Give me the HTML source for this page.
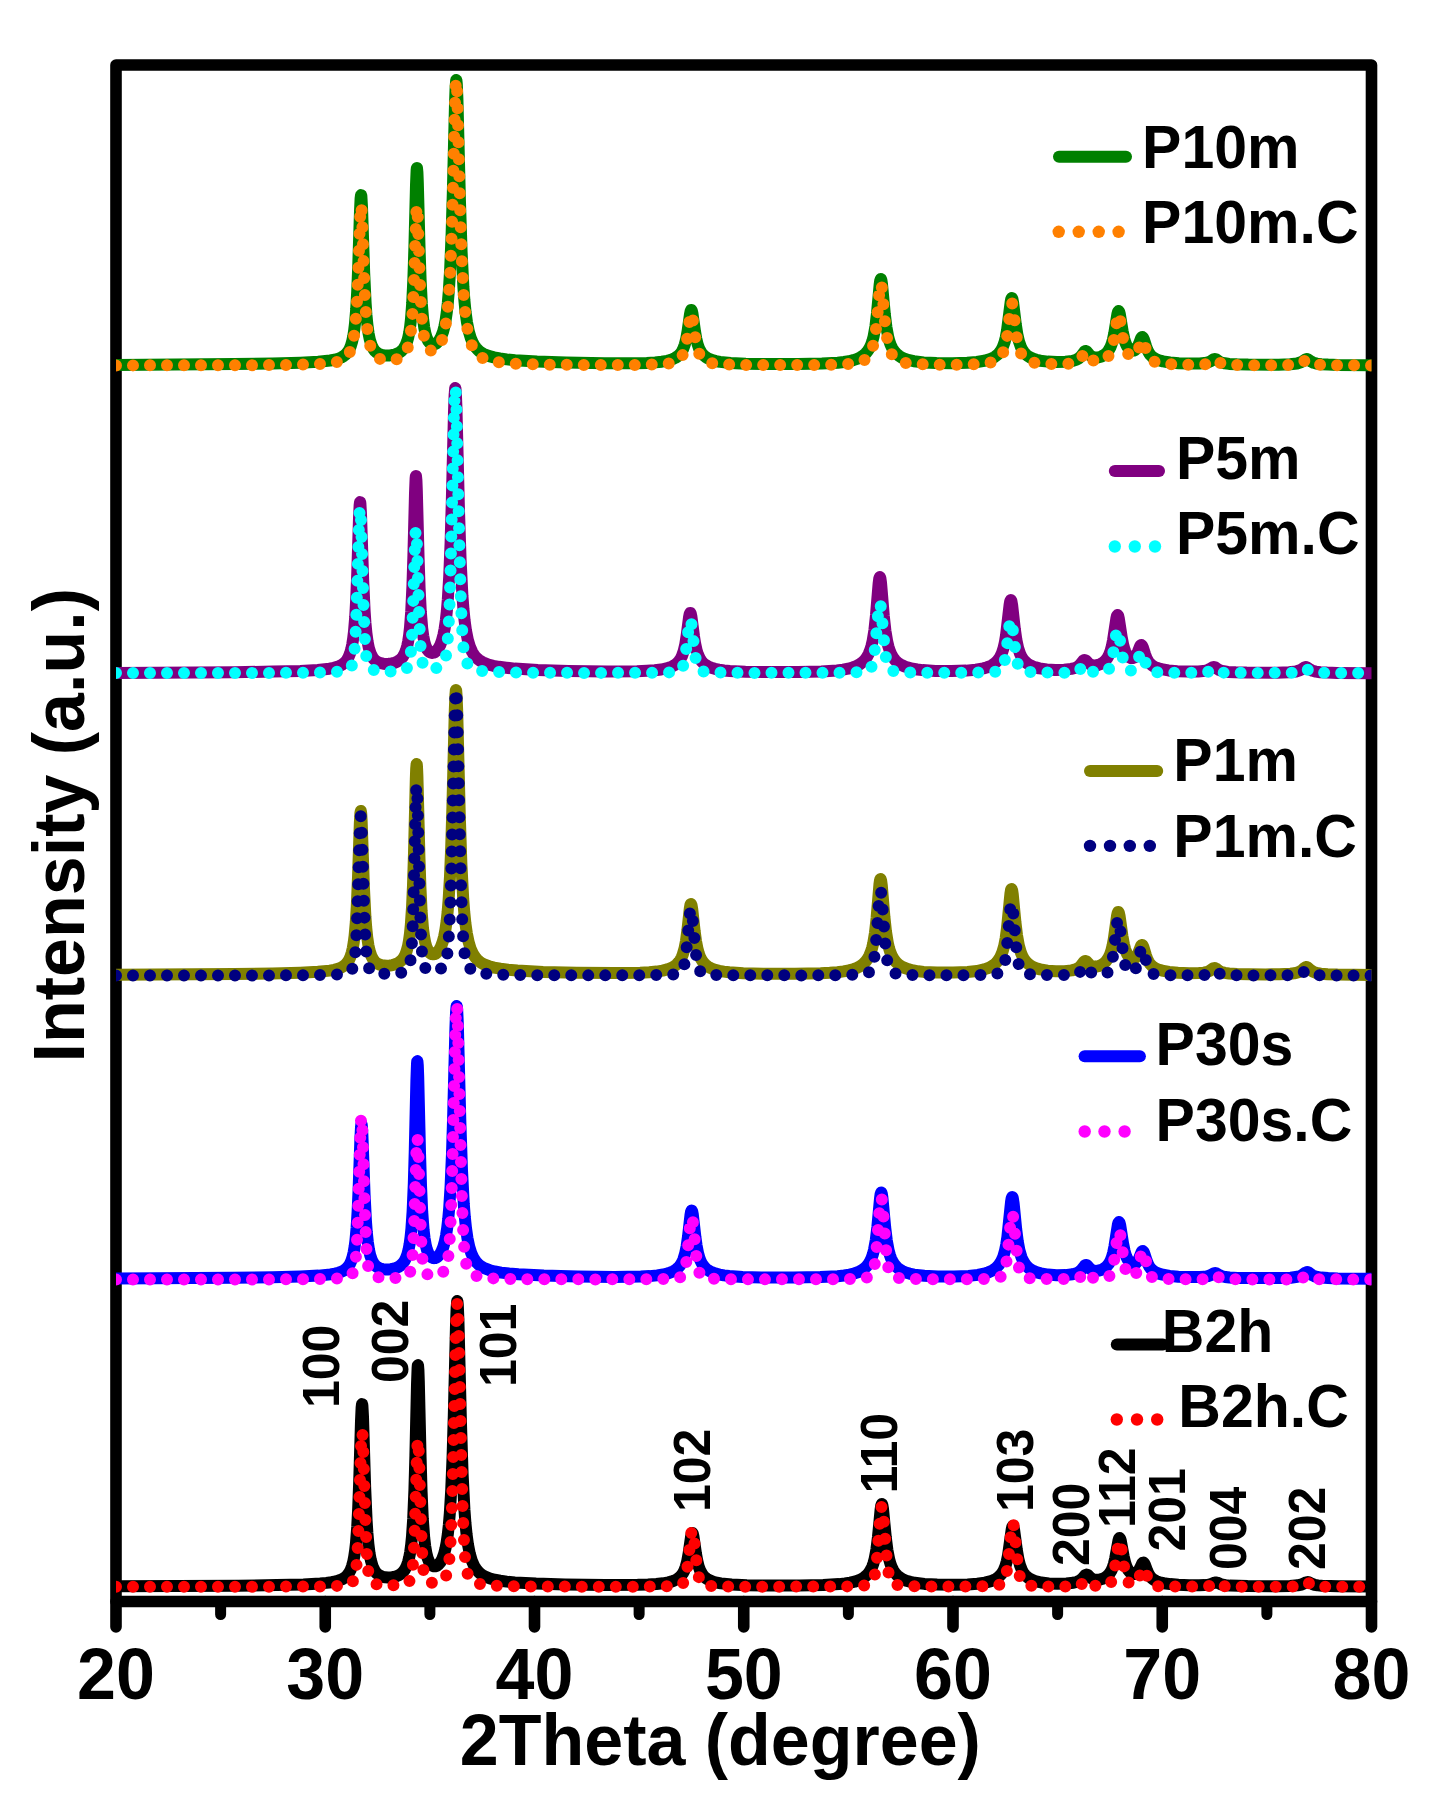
<!DOCTYPE html>
<html><head><meta charset="utf-8"><style>html,body{margin:0;padding:0;background:#fff;overflow:hidden;}svg{display:block;}text{font-family:"Liberation Sans",sans-serif;font-weight:bold;}</style></head><body>
<svg width="1437" height="1798" viewBox="0 0 1437 1798">
<defs><clipPath id="pc"><rect x="116.0" y="0" width="1255.5" height="1798"/></clipPath></defs>
<rect width="100%" height="100%" fill="#fff"/>
<path d="M116,65H1371.5V1601.5H116Z" fill="none" stroke="#000" stroke-width="11.6" stroke-linejoin="round"/>
<path d="M116.00,1601.5V1627M325.25,1601.5V1627M534.50,1601.5V1627M743.75,1601.5V1627M953.00,1601.5V1627M1162.25,1601.5V1627M1371.50,1601.5V1627" stroke="#000" stroke-width="11.6" stroke-linecap="round" fill="none"/>
<path d="M220.62,1601.5V1614.5M429.88,1601.5V1614.5M639.12,1601.5V1614.5M848.38,1601.5V1614.5M1057.62,1601.5V1614.5M1266.88,1601.5V1614.5" stroke="#000" stroke-width="11" stroke-linecap="round" fill="none"/>
<g clip-path="url(#pc)" fill="none" stroke-linejoin="round">
<path d="M116.0,364.9 233.8,364.1 272.4,363.5 300.4,362.7 318.2,361.8 330.2,360.5 334.6,359.7 338.2,358.7 341.2,357.5 343.8,356.0 346.0,354.1 348.0,351.7 349.6,348.9 351.0,345.4 352.2,341.3 353.2,336.6 354.2,330.3 355.0,323.5 356.2,309.1 357.2,291.5 358.2,266.9 360.0,211.1 360.6,198.4 361.0,195.1 361.2,195.2 361.4,196.5 362.0,207.0 364.2,273.2 365.6,302.9 366.4,314.5 367.4,324.9 368.6,333.6 369.8,339.5 371.6,345.3 373.6,349.2 374.8,350.8 376.2,352.1 377.8,353.3 379.4,354.1 381.6,354.9 384.2,355.4 387.0,355.5 389.8,355.4 392.8,355.0 395.4,354.4 397.8,353.4 399.8,352.3 402.0,350.5 404.0,348.1 405.6,345.3 407.0,341.8 408.2,337.6 409.2,332.8 410.2,326.2 411.0,319.0 412.2,303.3 413.4,278.4 414.4,247.3 416.0,185.2 416.6,170.6 416.8,168.5 417.0,168.0 417.4,172.1 417.8,181.9 419.6,250.2 420.6,279.8 421.8,303.4 423.2,319.9 424.2,327.3 425.4,333.4 426.6,337.5 428.2,341.0 430.0,343.2 431.0,343.9 432.2,344.3 433.4,344.4 434.6,344.2 435.8,343.7 437.0,342.9 439.2,340.4 441.2,336.7 443.0,331.9 444.4,326.5 445.6,320.3 446.8,312.1 447.8,303.1 448.8,291.3 450.2,268.3 451.6,234.2 452.8,193.5 455.0,103.8 455.6,87.2 456.2,80.1 456.4,80.2 456.8,84.1 457.4,98.4 460.0,202.6 461.6,251.9 463.4,287.2 464.4,300.4 465.6,312.3 467.0,322.3 468.8,331.4 470.8,338.1 473.2,343.6 474.6,346.0 476.0,347.8 477.8,349.8 479.6,351.4 481.6,352.8 483.8,354.0 489.2,356.1 494.0,357.4 499.8,358.5 506.8,359.4 515.0,360.2 537.0,361.6 566.0,362.6 604.6,363.3 636.4,363.2 646.8,362.9 655.2,362.4 661.8,361.7 667.2,360.8 670.2,360.0 672.8,359.0 675.2,357.9 677.2,356.6 679.0,355.1 680.4,353.6 681.8,351.6 683.0,349.3 684.8,344.5 686.2,339.0 687.6,331.1 690.0,314.1 690.6,311.2 691.2,310.0 691.4,310.0 691.8,310.7 692.4,313.2 695.0,331.4 696.2,338.3 697.6,344.1 699.0,348.2 701.2,352.4 702.6,354.2 704.0,355.6 705.6,356.9 707.6,358.2 712.2,360.1 715.8,361.1 720.0,361.9 730.6,363.0 745.8,363.7 767.6,364.1 798.2,364.1 822.0,363.6 837.8,362.7 843.8,362.0 849.0,361.2 853.4,360.1 857.2,358.9 860.4,357.4 863.2,355.6 865.6,353.5 867.8,350.9 869.6,348.0 871.2,344.5 872.4,341.0 873.6,336.5 875.4,326.5 877.0,313.1 879.6,285.0 880.2,280.7 880.8,279.0 881.0,279.1 881.4,280.2 882.0,284.0 884.8,314.0 886.4,327.1 888.2,336.8 889.4,341.3 890.6,344.7 892.2,348.1 894.0,351.0 896.2,353.5 898.8,355.7 901.8,357.6 905.2,359.0 909.2,360.2 913.8,361.2 923.6,362.4 936.4,363.1 952.4,363.2 967.2,362.8 976.8,362.0 984.4,360.8 990.4,359.0 992.8,357.9 995.0,356.7 998.2,354.1 1000.8,350.8 1002.8,347.1 1004.6,342.0 1005.8,337.2 1007.0,330.7 1010.6,302.4 1011.2,299.2 1011.8,298.0 1012.0,298.1 1012.4,298.9 1013.2,303.1 1015.8,324.5 1017.4,334.7 1019.0,341.6 1021.0,347.2 1022.4,350.0 1024.0,352.3 1025.8,354.3 1028.0,356.1 1030.4,357.5 1033.2,358.8 1036.4,359.8 1040.2,360.7 1047.8,361.6 1056.8,362.0 1065.6,361.8 1072.4,360.9 1076.2,359.8 1079.0,358.2 1081.2,356.1 1084.4,351.7 1085.0,351.2 1085.6,351.0 1086.2,351.1 1086.8,351.6 1089.2,354.4 1090.6,355.8 1092.2,356.8 1093.8,357.3 1096.2,357.5 1098.8,357.2 1101.6,356.4 1104.0,355.1 1106.4,353.2 1108.6,350.5 1110.4,347.3 1111.8,343.6 1113.0,339.3 1114.2,333.6 1117.4,314.0 1118.0,311.8 1118.6,311.0 1119.2,311.8 1119.8,314.1 1122.6,331.1 1124.2,338.6 1125.2,342.0 1126.2,344.6 1127.4,346.8 1128.6,348.5 1130.2,349.9 1132.0,350.7 1133.8,350.6 1135.4,349.8 1136.6,348.5 1137.6,346.9 1138.8,344.3 1141.0,338.5 1141.8,337.2 1142.4,337.0 1143.0,337.5 1143.8,339.2 1146.2,346.7 1147.6,350.3 1149.0,353.0 1150.4,355.0 1152.6,357.1 1155.4,358.9 1158.8,360.3 1163.0,361.4 1170.0,362.5 1178.8,363.2 1189.8,363.6 1199.6,363.5 1204.4,363.1 1207.8,362.4 1210.2,361.5 1213.6,359.3 1214.8,359.0 1216.0,359.3 1219.4,361.6 1221.6,362.6 1224.8,363.3 1229.2,363.9 1237.0,364.3 1248.2,364.6 1278.6,364.7 1290.2,364.3 1297.0,363.5 1300.8,362.3 1302.4,361.4 1305.4,359.4 1306.8,359.0 1308.0,359.4 1311.4,361.7 1313.6,362.8 1316.8,363.6 1321.2,364.2 1328.0,364.6 1337.8,364.9 1373.4,365.2" stroke="#008000" stroke-width="12"/>
<path d="M116.0,365.4 252.2,365.2 285.8,364.9 307.6,364.5 322.2,363.9 332.2,362.9 335.8,362.3 339.0,361.4 341.8,360.3 344.0,359.1 346.2,357.3 348.0,355.2 349.6,352.6 351.0,349.3 352.2,345.3 353.2,340.9 354.2,334.8 355.0,328.3 356.2,314.5 357.2,297.6 358.2,274.0 360.0,220.4 360.6,208.3 361.0,205.1 361.2,205.2 361.4,206.5 362.0,216.5 364.4,285.2 365.2,302.1 366.2,317.5 367.4,330.1 368.8,339.6 370.4,346.4 371.4,349.3 372.6,352.0 374.0,354.2 375.8,356.3 377.8,357.8 380.2,359.0 383.0,359.8 386.4,360.3 390.0,360.4 393.4,360.1 396.2,359.5 398.8,358.6 401.0,357.4 402.8,356.0 404.4,354.3 405.8,352.1 407.0,349.6 408.0,346.8 409.4,341.2 410.6,334.0 411.6,325.0 412.6,312.0 414.0,282.9 416.2,215.2 416.6,208.1 416.8,206.4 417.0,206.0 417.4,209.4 417.8,217.5 419.6,273.9 420.6,298.4 421.8,317.8 423.2,331.4 424.2,337.5 425.4,342.5 426.6,345.8 428.2,348.5 430.0,350.2 431.0,350.7 432.2,350.9 433.2,350.9 434.4,350.6 436.6,349.2 438.8,346.8 440.8,343.3 442.6,338.6 444.2,332.7 445.6,325.5 446.8,317.1 447.8,307.8 448.8,295.8 450.2,272.3 451.6,237.4 452.8,195.8 455.0,104.3 455.6,87.4 456.2,80.1 456.4,80.2 456.8,84.2 457.4,98.7 460.0,204.9 461.6,255.2 463.4,291.1 464.4,304.6 465.6,316.7 467.0,326.9 468.8,336.0 470.8,342.9 473.0,348.0 474.4,350.4 475.8,352.3 477.4,354.1 479.0,355.6 480.8,356.9 483.0,358.2 488.0,360.2 491.8,361.2 496.2,362.0 507.6,363.3 523.4,364.1 546.0,364.7 596.0,365.0 642.4,364.9 661.4,364.3 667.4,363.7 672.0,362.9 676.2,361.5 678.0,360.5 679.4,359.5 680.6,358.3 681.8,356.7 683.8,352.8 685.2,348.4 686.4,343.0 687.6,335.7 690.0,317.4 690.6,314.3 691.2,313.0 691.4,313.0 691.8,313.8 692.4,316.5 694.8,334.6 696.0,342.2 697.2,347.8 698.4,351.8 700.2,355.8 702.4,358.8 703.8,360.0 705.2,361.0 709.0,362.5 712.0,363.3 715.6,363.8 725.6,364.5 741.4,364.9 767.2,365.1 806.4,365.1 831.8,364.7 846.8,364.1 852.2,363.5 856.4,362.9 859.6,362.1 862.4,361.1 864.8,359.8 866.8,358.3 868.6,356.3 870.0,354.2 871.4,351.2 872.6,347.8 874.4,340.0 875.8,330.8 877.2,317.5 879.6,289.5 880.2,284.9 880.8,283.0 881.0,283.1 881.4,284.3 882.0,288.5 884.6,318.5 886.0,331.5 887.6,341.5 889.4,348.7 890.6,351.9 892.0,354.7 893.6,356.9 895.4,358.7 897.6,360.2 900.0,361.4 903.0,362.3 906.6,363.1 915.6,364.0 928.8,364.6 950.2,364.8 970.2,364.5 980.2,364.0 987.4,363.3 992.6,362.1 994.8,361.3 996.6,360.4 999.4,358.3 1001.6,355.5 1003.4,351.9 1005.0,347.0 1006.2,341.7 1007.4,334.4 1010.6,307.6 1011.2,304.3 1011.8,303.0 1012.0,303.1 1012.4,304.0 1013.2,308.4 1015.6,329.2 1017.0,339.0 1018.4,345.9 1020.2,351.7 1021.4,354.3 1022.6,356.3 1024.0,358.0 1025.6,359.4 1027.4,360.6 1029.6,361.6 1032.0,362.3 1035.0,363.0 1043.4,363.9 1055.2,364.2 1066.2,363.9 1070.2,363.6 1073.2,363.1 1076.6,362.0 1079.2,360.3 1081.2,358.0 1084.4,352.7 1085.0,352.2 1085.6,352.0 1086.2,352.2 1086.8,352.9 1089.2,356.7 1090.6,358.5 1092.2,359.9 1093.8,360.7 1096.4,361.3 1099.2,361.3 1102.2,360.6 1104.8,359.5 1107.0,357.8 1109.0,355.3 1110.6,352.3 1112.0,348.4 1113.2,343.7 1114.2,338.5 1117.4,317.2 1118.0,314.8 1118.6,314.0 1119.2,315.0 1119.8,317.5 1122.6,336.1 1124.2,344.2 1125.2,347.8 1126.2,350.5 1127.2,352.6 1128.4,354.3 1130.2,355.9 1132.0,356.5 1133.8,356.2 1135.4,355.0 1136.6,353.5 1137.6,351.6 1138.8,348.6 1141.2,341.4 1141.8,340.3 1142.4,340.0 1143.0,340.5 1143.8,342.2 1146.2,350.2 1147.4,353.5 1148.4,355.7 1149.6,357.6 1151.4,359.7 1153.4,361.1 1156.0,362.3 1159.4,363.2 1165.8,364.0 1175.2,364.6 1189.8,364.8 1200.8,364.6 1205.0,364.2 1208.0,363.5 1210.4,362.5 1213.6,360.3 1214.8,360.0 1216.0,360.3 1219.4,362.6 1221.6,363.6 1224.6,364.3 1228.6,364.7 1236.0,365.0 1248.4,365.2 1285.4,365.1 1293.4,364.8 1298.4,364.0 1301.2,363.0 1305.2,360.5 1306.6,360.0 1308.0,360.4 1311.2,362.5 1313.4,363.6 1316.2,364.3 1320.2,364.8 1334.6,365.3 1373.4,365.4" stroke="#FF8000" stroke-width="12" stroke-linecap="round" stroke-dasharray="0 17"/>
<path d="M116.0,672.9 234.6,672.2 273.0,671.6 300.4,670.9 317.8,670.0 329.4,668.7 333.8,667.9 337.4,666.9 340.4,665.6 342.8,664.2 345.0,662.4 347.0,659.9 348.6,657.1 350.0,653.6 351.2,649.4 352.2,644.7 353.2,638.3 354.0,631.5 355.2,617.0 356.2,599.2 357.2,574.4 359.0,518.2 359.6,505.5 360.0,502.1 360.2,502.2 360.4,503.6 361.0,514.1 363.2,580.8 364.6,610.8 365.4,622.5 366.4,633.0 367.6,641.7 368.8,647.7 370.6,653.5 372.6,657.5 373.8,659.1 375.2,660.5 376.8,661.6 378.4,662.5 380.6,663.2 383.2,663.7 386.0,663.9 388.8,663.8 391.8,663.4 394.4,662.8 396.8,661.9 398.8,660.7 401.0,659.0 403.0,656.6 404.6,653.8 406.0,650.3 407.2,646.0 408.2,641.2 409.2,634.6 410.0,627.4 411.2,611.6 412.4,586.6 413.4,555.5 415.0,493.3 415.6,478.6 415.8,476.5 416.0,476.0 416.4,480.1 416.8,490.0 418.6,558.4 419.6,588.1 420.8,611.7 422.2,628.3 423.2,635.8 424.4,641.9 425.6,645.9 427.2,649.4 429.0,651.6 430.0,652.3 431.2,652.8 432.4,652.9 433.6,652.7 434.8,652.2 436.0,651.3 438.2,648.8 440.2,645.2 442.0,640.3 443.4,634.9 444.6,628.8 445.8,620.5 446.8,611.5 447.8,599.7 449.2,576.6 450.6,542.5 451.8,501.6 454.0,411.9 454.6,395.2 455.2,388.1 455.4,388.2 455.8,392.1 456.4,406.4 459.0,510.8 460.6,560.2 462.4,595.5 463.4,608.7 464.6,620.6 466.0,630.7 467.8,639.7 469.8,646.5 472.2,652.0 473.6,654.3 475.0,656.2 476.8,658.2 478.6,659.7 480.6,661.1 482.8,662.3 488.2,664.5 493.2,665.8 499.0,666.8 506.2,667.7 514.8,668.6 537.8,669.9 568.6,670.9 607.0,671.4 637.0,671.2 646.8,670.8 654.8,670.3 661.2,669.5 666.4,668.4 669.4,667.5 672.0,666.5 674.2,665.3 676.2,663.9 678.0,662.3 679.4,660.6 680.8,658.4 682.0,656.0 683.8,650.7 685.2,644.6 686.6,636.0 689.0,617.4 689.6,614.3 690.2,613.0 690.4,613.0 690.8,613.8 691.4,616.5 694.0,636.4 695.2,643.9 696.6,650.2 698.0,654.7 700.2,659.3 701.6,661.3 703.0,662.9 704.6,664.3 706.6,665.6 708.8,666.8 711.2,667.7 714.8,668.8 719.0,669.6 724.0,670.4 729.8,670.9 745.4,671.7 767.8,672.0 798.0,672.0 821.4,671.4 837.0,670.4 843.0,669.6 848.2,668.7 852.6,667.5 856.4,666.1 859.6,664.4 862.4,662.3 864.8,660.0 866.8,657.3 868.6,654.0 870.2,650.1 871.4,646.2 872.6,641.1 874.4,630.1 876.0,615.1 878.6,583.7 879.2,578.9 879.8,577.0 880.0,577.1 880.4,578.3 881.0,582.6 883.8,616.1 885.4,630.7 887.2,641.5 888.4,646.5 889.6,650.3 891.2,654.2 893.0,657.4 895.2,660.2 897.8,662.7 900.8,664.7 904.2,666.3 908.2,667.7 912.8,668.8 917.4,669.5 922.6,670.1 935.4,670.9 951.4,671.1 966.2,670.6 975.8,669.7 983.4,668.4 986.6,667.5 989.4,666.5 991.8,665.3 994.0,663.9 997.2,661.1 999.8,657.6 1001.8,653.5 1003.6,647.9 1004.8,642.7 1006.0,635.6 1009.6,604.8 1010.2,601.4 1010.8,600.0 1011.0,600.1 1011.4,601.0 1012.2,605.6 1014.8,628.9 1016.4,640.0 1018.0,647.5 1020.0,653.7 1021.4,656.6 1023.0,659.2 1024.8,661.3 1027.0,663.3 1029.6,665.0 1032.4,666.3 1035.6,667.4 1039.4,668.4 1046.8,669.4 1055.4,669.9 1064.2,669.7 1071.2,668.9 1075.0,668.0 1078.0,666.5 1080.2,664.6 1083.4,660.6 1084.0,660.2 1084.6,660.0 1085.8,660.5 1088.2,663.0 1089.6,664.1 1091.2,664.9 1092.8,665.3 1095.2,665.4 1097.8,665.0 1100.4,664.1 1102.8,662.8 1105.2,660.7 1107.4,658.0 1109.2,654.6 1110.6,650.8 1111.8,646.4 1113.0,640.5 1116.4,618.2 1117.0,615.8 1117.6,615.0 1118.2,615.9 1118.8,618.4 1121.6,636.7 1123.2,644.8 1124.2,648.5 1125.2,651.3 1126.4,653.8 1127.6,655.6 1129.2,657.2 1131.0,658.1 1132.8,658.1 1134.4,657.4 1135.6,656.2 1136.6,654.7 1137.8,652.1 1140.2,646.1 1140.8,645.2 1141.4,645.0 1142.0,645.5 1142.8,647.2 1145.2,654.6 1146.6,658.3 1148.0,660.9 1149.4,662.9 1151.6,665.0 1154.2,666.7 1157.4,668.0 1161.4,669.2 1168.4,670.4 1177.2,671.2 1188.2,671.6 1198.2,671.5 1203.2,671.1 1206.6,670.5 1209.2,669.4 1212.6,667.3 1213.8,667.0 1215.0,667.3 1218.4,669.6 1220.6,670.5 1223.8,671.3 1228.0,671.9 1235.6,672.3 1246.6,672.6 1277.0,672.7 1289.0,672.3 1296.0,671.5 1299.8,670.3 1301.4,669.4 1304.4,667.4 1305.8,667.0 1307.0,667.4 1310.4,669.7 1312.6,670.8 1315.8,671.6 1320.2,672.2 1327.0,672.6 1337.0,672.9 1373.4,673.2" stroke="#800080" stroke-width="12"/>
<path d="M116.0,673.0 268.4,672.9 319.8,672.6 332.2,672.2 340.0,671.6 345.4,670.5 347.4,669.8 349.0,668.9 350.4,667.8 351.4,666.4 352.2,664.8 352.8,662.9 353.8,657.4 354.8,646.9 355.6,633.0 356.4,613.0 359.0,524.1 359.6,511.4 360.0,508.1 360.2,508.2 360.6,512.0 361.2,525.3 363.4,602.1 364.8,637.8 365.6,650.0 366.4,657.6 367.2,662.1 368.4,665.7 369.6,667.4 371.0,668.6 372.8,669.6 375.2,670.4 378.2,671.0 381.8,671.4 391.2,671.5 399.0,671.0 401.8,670.5 404.0,669.8 405.8,668.9 407.2,667.8 408.2,666.5 409.0,664.7 409.8,661.5 410.6,655.9 411.8,639.3 412.8,615.0 415.0,543.0 415.6,531.9 415.8,530.3 416.0,530.0 416.4,533.1 417.0,545.7 418.8,605.8 419.8,632.9 420.8,650.1 421.4,656.4 422.0,660.5 422.8,663.8 424.0,666.2 425.6,667.7 427.8,668.6 431.2,669.0 435.0,668.6 438.4,667.4 441.2,665.6 442.8,664.0 444.2,661.6 445.2,658.9 446.0,655.5 446.8,650.4 447.4,644.9 448.6,627.3 449.6,603.5 450.6,569.6 454.0,412.6 454.6,395.4 455.2,388.1 455.4,388.2 455.8,392.2 456.6,413.6 459.4,545.7 460.6,592.2 461.6,619.7 462.8,640.7 463.6,649.2 464.4,654.9 465.4,659.3 466.4,662.0 468.0,664.6 470.0,666.6 472.6,668.3 475.8,669.6 478.6,670.3 482.0,670.9 491.0,671.8 504.2,672.3 524.6,672.6 585.0,672.9 650.6,672.8 668.8,672.4 674.0,672.0 677.6,671.4 679.8,670.6 681.4,669.3 682.6,667.4 683.8,663.7 684.8,658.9 685.8,652.2 689.0,624.5 689.6,621.3 690.2,620.0 690.4,620.0 690.8,620.8 691.6,624.8 694.8,652.6 695.6,658.0 696.6,663.1 697.6,666.5 698.8,668.9 700.2,670.3 702.2,671.2 707.0,672.1 714.8,672.5 750.2,672.9 840.0,672.7 855.4,672.4 864.0,671.6 867.8,670.6 869.0,670.0 870.0,669.2 870.8,668.2 871.6,666.6 872.8,662.8 874.0,656.2 875.0,648.2 878.6,608.5 879.2,604.6 879.8,603.0 880.0,603.1 880.4,604.1 881.2,609.3 884.8,649.0 885.8,656.8 887.0,663.1 888.4,667.2 889.2,668.6 890.0,669.5 891.0,670.2 892.4,670.8 896.6,671.7 904.2,672.3 916.8,672.7 972.2,672.7 983.8,672.5 991.4,672.2 996.6,671.6 999.6,670.8 1001.2,669.7 1002.6,667.8 1003.6,665.3 1004.6,661.5 1006.4,650.4 1009.4,625.2 1010.2,621.1 1010.8,620.0 1011.0,620.1 1011.4,620.8 1012.2,624.6 1015.6,652.7 1016.6,659.0 1017.8,664.3 1019.0,667.6 1019.8,668.9 1020.6,669.8 1022.6,671.0 1026.0,671.7 1033.0,672.3 1044.2,672.6 1064.4,672.7 1074.2,672.3 1076.6,671.8 1078.4,670.9 1080.0,669.4 1083.0,665.8 1083.8,665.2 1084.6,665.0 1085.2,665.2 1086.0,665.8 1088.8,669.1 1090.2,670.4 1091.4,671.2 1092.8,671.7 1095.6,672.1 1100.2,671.9 1104.2,671.5 1106.6,670.8 1108.0,669.9 1109.2,668.5 1110.2,666.5 1111.2,663.4 1113.0,654.7 1116.2,633.6 1117.0,630.7 1117.6,630.0 1118.2,630.8 1119.0,634.0 1122.2,655.0 1124.0,663.5 1125.0,666.4 1126.2,668.6 1127.6,669.9 1129.4,670.5 1131.2,670.6 1132.6,670.2 1133.8,669.3 1134.8,668.1 1136.6,664.3 1140.0,653.8 1140.8,652.4 1141.4,652.0 1142.0,652.4 1142.8,653.8 1146.2,664.6 1147.2,667.1 1148.4,669.2 1149.6,670.5 1151.0,671.4 1152.6,671.9 1155.2,672.2 1161.8,672.6 1172.6,672.8 1193.2,672.8 1203.4,672.7 1205.8,672.4 1207.6,672.0 1209.2,671.2 1212.2,669.4 1213.8,669.0 1215.4,669.4 1218.4,671.2 1220.2,672.0 1222.2,672.5 1224.6,672.7 1248.0,672.9 1292.4,672.8 1296.2,672.6 1298.6,672.2 1300.6,671.4 1304.2,669.3 1305.6,669.0 1307.2,669.4 1310.6,671.3 1312.2,672.0 1314.0,672.5 1316.4,672.7 1328.8,672.9 1373.4,673.0" stroke="#00FFFF" stroke-width="12" stroke-linecap="round" stroke-dasharray="0 17"/>
<path d="M116.0,974.7 234.0,974.0 272.4,973.5 300.2,972.7 318.0,971.8 329.8,970.6 334.2,969.8 337.8,968.9 340.8,967.7 343.4,966.3 345.6,964.6 347.6,962.2 349.2,959.6 350.6,956.3 351.8,952.4 352.8,948.1 353.8,942.1 354.6,935.8 355.8,922.4 356.8,906.0 358.0,877.5 359.8,824.0 360.4,813.1 360.8,811.0 361.2,813.5 361.6,820.3 364.0,888.9 365.4,916.7 366.2,927.4 367.2,937.1 368.4,945.2 369.6,950.7 371.4,956.1 373.4,959.8 374.6,961.3 376.0,962.6 377.6,963.7 379.4,964.5 381.6,965.2 384.2,965.6 387.0,965.7 389.8,965.5 392.6,965.1 395.2,964.3 397.4,963.4 399.4,962.2 401.8,960.2 403.8,957.5 405.4,954.5 406.8,950.6 408.0,946.0 409.0,940.6 410.0,933.3 410.8,925.2 412.0,907.7 413.0,885.4 414.0,853.1 415.8,779.1 416.2,768.5 416.6,764.1 416.8,764.5 417.0,766.7 417.4,775.9 419.4,856.2 420.4,887.0 421.6,911.3 423.0,928.4 424.0,936.2 425.2,942.6 426.4,946.8 428.0,950.5 429.8,952.8 430.8,953.6 432.0,954.1 433.2,954.3 434.4,954.1 435.6,953.6 436.8,952.7 439.0,950.3 441.0,946.6 442.8,941.6 444.2,936.2 445.4,929.9 446.6,921.4 447.6,912.2 448.6,900.1 450.0,876.4 451.2,847.2 452.4,807.3 454.8,710.5 455.4,695.3 455.8,690.5 456.0,690.0 456.2,690.7 456.6,695.9 457.2,711.6 459.8,816.3 461.4,864.5 463.2,898.8 464.2,911.7 465.4,923.3 466.8,933.1 468.6,941.9 470.6,948.6 473.0,954.0 475.8,958.1 477.4,959.9 479.2,961.4 481.2,962.8 483.4,964.1 488.8,966.2 494.0,967.6 500.4,968.7 508.0,969.7 517.4,970.5 543.0,971.9 576.8,972.8 613.6,973.1 640.2,972.7 649.2,972.2 656.6,971.6 662.6,970.6 667.4,969.4 670.2,968.4 672.8,967.2 675.0,965.8 677.0,964.1 678.8,962.1 680.2,960.1 681.6,957.5 682.8,954.5 684.6,948.2 686.0,940.8 687.4,930.3 689.8,908.5 690.4,905.1 690.8,904.1 691.0,904.0 691.6,905.4 692.2,908.9 694.6,930.8 696.0,941.1 697.4,948.4 698.8,953.5 699.8,956.3 701.0,958.9 702.4,961.2 703.8,963.0 705.4,964.6 707.4,966.2 709.4,967.5 711.8,968.6 715.2,969.8 719.2,970.8 723.8,971.6 729.2,972.3 743.2,973.2 763.2,973.7 794.8,973.7 820.6,973.2 829.8,972.8 837.4,972.2 843.6,971.4 849.0,970.4 853.4,969.2 857.2,967.8 860.4,966.1 863.2,964.0 865.6,961.6 867.6,958.9 869.4,955.6 871.0,951.6 872.2,947.7 873.2,943.5 875.0,932.7 876.6,918.1 879.4,884.7 880.0,880.4 880.4,879.1 880.6,879.0 881.2,880.9 881.8,885.6 884.4,916.9 886.0,931.8 887.8,942.9 889.0,948.0 890.2,951.9 891.8,955.8 893.6,959.0 895.8,961.9 898.4,964.3 901.4,966.4 904.8,968.0 908.8,969.4 913.4,970.5 918.2,971.3 923.6,971.9 936.8,972.6 953.2,972.6 967.6,972.0 977.0,971.0 984.2,969.4 987.2,968.4 990.0,967.2 992.4,965.9 994.6,964.3 996.2,962.8 997.8,961.0 1000.4,956.9 1002.4,952.2 1004.2,945.8 1005.6,938.6 1007.0,928.4 1010.4,893.8 1011.0,890.1 1011.4,889.1 1011.6,889.0 1012.2,890.6 1012.8,894.7 1015.4,922.0 1017.0,935.3 1018.8,945.3 1020.8,952.4 1022.2,955.8 1023.8,958.8 1025.6,961.3 1027.8,963.5 1030.4,965.5 1033.2,967.1 1036.4,968.4 1040.2,969.4 1047.4,970.7 1055.8,971.3 1064.6,971.2 1071.8,970.4 1075.6,969.4 1078.6,967.9 1080.8,965.9 1084.0,961.7 1085.2,961.0 1085.8,961.1 1086.4,961.4 1089.0,964.2 1090.4,965.4 1092.0,966.2 1093.6,966.6 1096.0,966.6 1098.6,966.1 1101.2,965.1 1103.6,963.6 1106.0,961.4 1108.2,958.3 1110.0,954.6 1111.4,950.4 1112.6,945.5 1113.8,939.0 1117.0,916.0 1117.6,913.2 1118.2,912.0 1118.4,912.0 1118.8,912.7 1119.6,916.2 1122.4,936.2 1124.0,944.7 1125.0,948.6 1126.0,951.6 1127.2,954.2 1128.4,956.1 1130.0,957.8 1131.8,958.8 1133.6,958.8 1135.2,958.0 1136.4,956.7 1137.6,954.6 1141.0,945.9 1141.6,945.1 1142.2,945.0 1142.8,945.7 1143.4,947.0 1146.0,955.5 1147.2,958.8 1148.6,961.7 1150.0,963.9 1152.2,966.2 1154.8,968.0 1158.0,969.4 1162.0,970.6 1169.0,971.9 1177.8,972.8 1189.0,973.2 1199.0,973.1 1204.0,972.7 1207.4,971.9 1209.8,970.8 1213.4,968.3 1214.6,968.0 1215.8,968.4 1219.0,970.8 1221.4,972.0 1224.6,972.9 1229.0,973.5 1237.0,974.0 1249.0,974.3 1265.4,974.4 1279.4,974.3 1290.4,973.7 1294.2,973.3 1297.0,972.7 1299.0,972.0 1300.6,971.2 1302.2,970.0 1305.0,967.5 1305.8,967.1 1306.4,967.0 1307.6,967.4 1311.0,970.4 1313.4,971.9 1316.6,973.0 1320.8,973.7 1327.6,974.2 1337.4,974.6 1373.4,975.0" stroke="#808000" stroke-width="12"/>
<path d="M116.0,975.5 268.6,975.4 320.6,975.1 333.0,974.7 340.8,974.1 346.2,973.1 348.2,972.3 349.8,971.5 351.2,970.3 352.2,969.0 353.0,967.3 353.6,965.3 354.6,959.6 355.6,948.8 356.4,934.7 357.2,914.6 359.8,829.0 360.4,818.0 360.8,816.0 361.2,818.5 361.8,830.0 364.0,903.8 365.2,935.6 365.8,946.4 366.6,956.4 367.4,962.5 368.2,966.1 369.4,968.9 370.2,969.9 371.4,971.0 372.8,971.8 374.4,972.5 378.8,973.4 382.4,973.8 386.8,973.9 395.6,973.6 401.4,972.7 403.6,972.0 405.4,971.1 407.0,969.9 408.2,968.4 409.0,966.9 409.8,964.3 410.4,961.2 411.0,956.4 411.8,945.9 412.6,928.5 413.4,902.7 415.8,800.0 416.2,790.1 416.6,786.0 416.8,786.5 417.0,788.5 417.6,803.4 419.6,890.8 420.6,925.5 421.6,947.2 422.2,955.0 422.8,960.1 423.6,964.1 424.6,966.8 425.4,968.1 426.2,968.9 428.4,970.2 430.0,970.7 431.6,971.0 435.4,970.8 438.8,969.8 440.4,969.0 441.8,968.0 443.4,966.4 444.8,964.2 445.8,961.6 446.8,957.4 447.6,952.0 448.2,946.1 449.4,927.7 450.4,902.9 451.4,867.9 454.6,718.3 455.4,695.4 455.8,690.6 456.0,690.0 456.2,690.7 456.6,695.9 457.4,719.4 460.0,843.4 461.2,891.2 462.2,919.8 463.4,941.7 464.2,950.8 465.0,956.7 466.0,961.4 467.0,964.2 468.6,967.0 470.6,969.0 473.2,970.7 476.6,972.1 479.6,972.8 483.4,973.5 493.2,974.4 507.8,974.9 531.0,975.2 598.4,975.4 652.4,975.2 669.6,974.7 674.6,974.3 678.2,973.6 680.6,972.5 682.2,970.8 683.4,968.1 684.6,963.4 685.6,957.1 686.4,950.4 689.6,915.5 690.4,910.2 690.8,909.1 691.0,909.0 691.6,910.4 692.4,915.9 695.4,948.9 696.2,956.0 697.2,962.6 698.2,967.0 699.4,970.2 700.8,972.0 701.8,972.8 703.0,973.3 705.0,973.9 707.8,974.3 715.6,974.9 728.2,975.2 750.6,975.3 808.0,975.4 840.8,975.2 856.2,974.7 861.0,974.3 864.8,973.8 867.0,973.2 868.6,972.6 869.8,971.8 870.8,970.8 871.6,969.5 872.4,967.5 873.6,962.6 874.8,954.4 875.8,944.4 879.2,898.7 880.0,892.4 880.4,891.1 880.6,891.0 881.2,892.8 881.8,897.6 885.4,945.4 886.4,955.1 887.6,963.1 889.0,968.3 889.8,970.0 890.6,971.1 891.6,972.0 893.0,972.8 894.8,973.4 897.2,973.9 905.0,974.7 918.0,975.1 946.2,975.3 974.8,975.1 985.6,974.8 992.6,974.4 997.4,973.6 999.2,973.0 1000.4,972.4 1002.0,970.9 1003.2,968.6 1004.2,965.4 1005.2,960.4 1007.0,945.6 1010.2,909.2 1011.0,904.1 1011.4,903.1 1011.6,903.0 1012.2,904.6 1013.0,910.2 1016.4,948.7 1017.4,957.1 1018.6,964.1 1019.8,968.4 1020.6,970.1 1021.4,971.2 1022.4,972.2 1023.4,972.8 1026.8,973.8 1033.6,974.6 1044.4,975.0 1064.4,975.1 1074.8,974.7 1077.2,974.1 1079.0,973.0 1080.6,971.3 1083.8,966.8 1084.6,966.2 1085.2,966.0 1086.0,966.3 1086.8,967.0 1089.6,970.9 1090.8,972.3 1092.2,973.4 1093.6,973.9 1096.6,974.3 1101.4,974.1 1105.0,973.5 1107.4,972.6 1108.8,971.3 1110.0,969.4 1111.0,966.6 1112.0,962.5 1113.6,952.2 1116.8,924.4 1117.6,920.2 1118.2,919.0 1118.4,919.0 1118.8,919.8 1119.6,923.6 1123.0,952.6 1124.8,963.5 1125.8,967.2 1127.0,969.9 1128.4,971.5 1130.2,972.3 1132.0,972.3 1133.4,971.7 1134.6,970.6 1135.6,968.9 1137.4,963.8 1140.6,950.7 1141.4,948.6 1141.8,948.1 1142.2,948.0 1142.8,948.6 1143.6,950.7 1147.0,964.8 1148.0,968.0 1149.0,970.3 1150.2,972.1 1151.6,973.3 1153.4,974.0 1155.8,974.5 1162.2,974.9 1172.4,975.2 1193.0,975.3 1204.0,975.1 1206.4,974.9 1208.2,974.4 1209.8,973.6 1213.0,971.4 1214.6,971.0 1216.0,971.4 1219.2,973.6 1220.8,974.4 1222.8,974.9 1225.4,975.2 1249.0,975.4 1293.0,975.3 1296.8,975.1 1299.2,974.6 1301.2,973.8 1304.8,971.4 1306.4,971.0 1308.0,971.5 1311.2,973.5 1313.0,974.4 1314.8,974.9 1317.2,975.2 1329.6,975.4 1373.4,975.5" stroke="#000080" stroke-width="12" stroke-linecap="round" stroke-dasharray="0 17"/>
<path d="M116.0,1278.4 234.0,1277.7 272.6,1277.2 300.6,1276.4 318.6,1275.6 330.6,1274.4 335.0,1273.6 338.6,1272.7 341.6,1271.6 344.2,1270.3 346.4,1268.6 348.4,1266.4 350.0,1263.8 351.4,1260.6 352.6,1256.9 353.6,1252.6 354.6,1246.9 355.4,1240.7 356.6,1227.7 357.6,1211.6 358.6,1189.3 360.4,1138.6 361.0,1127.1 361.4,1124.1 361.6,1124.2 361.8,1125.4 362.4,1134.9 364.6,1195.0 366.0,1222.0 366.8,1232.5 367.8,1242.0 369.0,1249.8 370.2,1255.2 372.0,1260.4 374.0,1263.9 375.2,1265.4 376.6,1266.6 378.2,1267.6 380.0,1268.4 382.4,1269.1 385.0,1269.4 387.8,1269.5 390.8,1269.2 393.6,1268.7 396.0,1268.0 398.2,1267.0 400.2,1265.8 402.4,1263.8 404.4,1261.2 406.0,1258.1 407.4,1254.2 408.6,1249.5 409.6,1244.2 410.6,1236.8 411.4,1228.8 412.6,1211.4 413.8,1183.7 414.8,1149.2 416.4,1080.2 417.0,1063.8 417.2,1061.5 417.4,1061.1 417.8,1065.6 418.2,1076.5 420.0,1152.5 421.0,1185.5 422.2,1211.7 423.6,1230.1 424.6,1238.5 425.8,1245.3 427.0,1249.9 428.6,1253.8 429.6,1255.5 430.6,1256.6 431.6,1257.4 432.8,1258.0 434.0,1258.2 435.2,1258.0 436.4,1257.6 437.6,1256.8 439.8,1254.4 441.6,1251.3 443.4,1246.7 444.8,1241.6 446.0,1235.7 447.2,1227.9 448.2,1219.3 449.2,1208.1 450.6,1186.1 452.0,1153.5 453.2,1114.5 455.4,1028.8 456.0,1012.9 456.6,1006.1 456.8,1006.2 457.2,1010.0 457.8,1023.6 460.4,1123.3 462.0,1170.5 463.8,1204.2 464.8,1216.9 466.0,1228.2 467.4,1237.9 469.2,1246.5 471.2,1253.0 473.6,1258.2 476.4,1262.3 478.2,1264.1 480.0,1265.6 484.2,1268.1 489.6,1270.2 494.8,1271.5 501.2,1272.6 509.0,1273.5 518.4,1274.3 543.8,1275.6 577.4,1276.5 614.2,1276.9 640.8,1276.5 649.8,1276.1 657.2,1275.4 663.2,1274.5 668.0,1273.4 670.8,1272.4 673.4,1271.2 675.6,1269.9 677.6,1268.3 679.4,1266.4 680.8,1264.5 682.2,1262.1 683.4,1259.3 685.2,1253.3 686.6,1246.4 688.0,1236.6 690.4,1215.6 691.0,1212.0 691.6,1210.5 691.8,1210.6 692.2,1211.4 692.8,1214.5 695.4,1237.1 696.6,1245.6 698.0,1252.8 699.4,1257.8 700.4,1260.5 701.6,1263.0 703.0,1265.3 704.4,1267.1 706.0,1268.7 708.0,1270.2 710.0,1271.4 712.4,1272.5 715.8,1273.7 719.6,1274.6 724.0,1275.4 729.2,1276.0 742.6,1276.9 761.6,1277.4 793.4,1277.6 820.4,1277.1 837.6,1276.2 844.2,1275.5 849.6,1274.6 854.0,1273.5 857.8,1272.3 861.0,1270.7 863.8,1268.9 866.2,1266.8 868.2,1264.4 870.0,1261.5 871.6,1258.0 872.8,1254.5 874.0,1249.9 875.8,1240.0 877.4,1226.6 880.0,1198.5 880.6,1194.2 881.2,1192.5 881.4,1192.6 881.8,1193.7 882.4,1197.5 885.2,1227.5 886.8,1240.6 888.6,1250.3 889.8,1254.7 891.0,1258.2 892.6,1261.6 894.4,1264.4 896.6,1267.0 899.2,1269.2 902.2,1271.0 905.6,1272.5 909.4,1273.6 914.0,1274.6 924.2,1275.8 937.8,1276.5 954.2,1276.5 968.6,1275.9 978.0,1274.9 985.2,1273.3 988.2,1272.4 990.8,1271.3 993.2,1270.0 995.4,1268.5 997.0,1267.1 998.6,1265.3 1001.2,1261.4 1003.2,1256.8 1005.0,1250.6 1006.2,1244.7 1007.4,1236.8 1011.0,1202.3 1011.6,1198.5 1012.2,1197.0 1012.4,1197.1 1012.8,1198.1 1013.6,1203.2 1016.2,1229.3 1017.8,1241.7 1019.4,1250.1 1021.4,1257.0 1022.8,1260.3 1024.4,1263.1 1026.2,1265.6 1028.4,1267.8 1031.0,1269.7 1033.8,1271.1 1037.0,1272.4 1040.8,1273.4 1048.0,1274.6 1056.6,1275.2 1065.4,1275.1 1072.6,1274.3 1076.4,1273.3 1079.4,1271.7 1081.6,1269.7 1084.8,1265.6 1085.4,1265.2 1086.0,1265.0 1086.6,1265.1 1087.2,1265.5 1089.6,1268.2 1091.0,1269.4 1092.6,1270.3 1094.2,1270.8 1096.6,1270.9 1099.2,1270.5 1101.8,1269.7 1104.2,1268.4 1106.6,1266.5 1108.8,1263.8 1110.6,1260.5 1112.0,1256.8 1113.2,1252.5 1114.4,1246.8 1117.8,1225.1 1118.4,1222.8 1119.0,1222.0 1119.6,1222.9 1120.2,1225.3 1123.0,1243.1 1124.6,1251.0 1125.6,1254.6 1126.6,1257.3 1127.8,1259.7 1129.0,1261.5 1130.6,1263.0 1132.4,1263.9 1134.2,1263.9 1135.8,1263.2 1137.0,1262.0 1138.0,1260.5 1139.2,1258.0 1141.6,1252.1 1142.2,1251.2 1142.8,1251.0 1143.4,1251.5 1144.2,1253.1 1146.6,1260.5 1148.0,1264.0 1149.4,1266.7 1150.8,1268.6 1153.0,1270.7 1155.6,1272.3 1158.8,1273.6 1162.8,1274.7 1169.6,1275.9 1178.2,1276.7 1189.2,1277.1 1199.4,1277.1 1204.4,1276.8 1208.0,1276.2 1210.6,1275.2 1214.0,1273.3 1215.2,1273.0 1216.4,1273.3 1219.8,1275.3 1222.0,1276.2 1225.2,1277.0 1229.6,1277.5 1237.6,1277.9 1249.2,1278.1 1279.2,1278.1 1290.6,1277.7 1297.4,1276.8 1299.4,1276.3 1301.2,1275.6 1302.8,1274.6 1305.8,1272.4 1307.2,1272.0 1308.4,1272.4 1311.8,1274.9 1314.0,1276.1 1317.2,1277.0 1321.4,1277.6 1328.0,1278.1 1337.8,1278.4 1373.4,1278.7" stroke="#0000FF" stroke-width="12"/>
<path d="M116.0,1279.5 269.6,1279.4 321.2,1279.1 333.6,1278.7 341.4,1278.1 346.8,1277.1 348.8,1276.3 350.4,1275.5 351.8,1274.3 352.8,1273.0 353.6,1271.4 354.2,1269.5 355.2,1264.1 356.2,1253.8 357.0,1240.1 357.8,1220.4 360.4,1132.8 361.0,1120.3 361.4,1117.1 361.6,1117.2 362.0,1120.9 362.6,1134.0 364.8,1209.7 366.2,1244.8 367.0,1256.8 367.8,1264.3 368.6,1268.8 369.8,1272.3 371.0,1274.0 372.4,1275.2 374.2,1276.2 376.6,1277.0 379.6,1277.5 383.2,1277.9 392.8,1278.1 400.4,1277.5 403.2,1277.0 405.4,1276.3 407.2,1275.4 408.6,1274.3 409.6,1273.0 410.4,1271.3 411.2,1268.2 412.0,1262.6 413.2,1246.2 414.2,1222.1 416.4,1150.9 417.0,1139.9 417.2,1138.3 417.4,1138.0 417.8,1141.1 418.4,1153.6 420.2,1213.0 421.2,1239.8 422.2,1256.9 422.8,1263.1 423.4,1267.2 424.2,1270.4 425.2,1272.5 426.8,1274.1 429.0,1275.1 432.4,1275.6 436.2,1275.3 439.6,1274.2 442.4,1272.6 444.0,1271.0 445.4,1268.9 446.6,1265.9 447.4,1262.7 448.2,1257.7 448.8,1252.4 450.0,1235.5 451.0,1212.6 452.0,1179.9 455.4,1028.7 456.0,1012.1 456.6,1005.1 456.8,1005.2 457.2,1009.0 458.0,1029.7 460.8,1156.9 462.0,1201.7 463.0,1228.2 464.2,1248.4 465.0,1256.6 465.8,1262.0 466.8,1266.3 467.8,1268.9 469.4,1271.4 471.4,1273.4 474.0,1275.0 477.2,1276.2 480.2,1276.9 483.8,1277.5 493.6,1278.4 508.2,1278.9 531.0,1279.2 598.4,1279.4 653.2,1279.2 670.4,1278.8 675.4,1278.3 679.0,1277.6 681.2,1276.7 682.8,1275.2 684.0,1272.8 685.2,1268.6 686.2,1262.9 687.2,1255.0 690.4,1222.3 691.0,1218.6 691.6,1217.0 691.8,1217.1 692.2,1218.0 693.0,1222.7 696.2,1255.4 697.0,1261.9 698.0,1267.9 699.0,1271.8 700.2,1274.7 701.6,1276.3 703.6,1277.4 705.6,1277.9 708.4,1278.4 716.0,1278.9 728.6,1279.2 750.8,1279.4 841.4,1279.2 856.8,1278.8 861.6,1278.4 865.4,1277.9 869.2,1276.7 870.4,1276.0 871.4,1275.1 872.2,1273.9 873.0,1272.1 874.2,1267.6 875.4,1260.0 876.4,1250.6 880.0,1204.4 880.6,1199.8 881.2,1198.0 881.4,1198.1 881.8,1199.3 882.6,1205.3 886.2,1251.5 887.2,1260.7 888.4,1268.0 889.8,1272.8 890.6,1274.3 891.4,1275.4 892.4,1276.2 893.8,1276.9 898.0,1278.0 905.6,1278.7 918.4,1279.1 945.2,1279.3 974.4,1279.2 985.6,1278.9 993.0,1278.5 998.0,1277.8 1001.0,1276.7 1002.6,1275.4 1004.0,1273.0 1005.0,1270.0 1006.0,1265.3 1007.8,1251.5 1010.8,1220.4 1011.6,1215.4 1012.2,1214.0 1012.4,1214.1 1012.8,1215.0 1013.6,1219.7 1017.0,1254.4 1018.0,1262.2 1019.2,1268.8 1020.4,1272.8 1021.2,1274.4 1022.0,1275.5 1023.0,1276.4 1024.0,1277.0 1027.4,1277.9 1033.8,1278.7 1044.2,1279.0 1064.2,1279.1 1075.4,1278.8 1077.8,1278.4 1079.6,1277.6 1081.4,1276.1 1084.4,1272.7 1085.2,1272.2 1086.0,1272.0 1086.6,1272.2 1087.4,1272.7 1090.2,1275.7 1091.6,1277.0 1092.8,1277.7 1094.2,1278.2 1097.2,1278.5 1101.8,1278.3 1105.6,1277.8 1108.0,1277.0 1109.4,1276.0 1110.6,1274.4 1111.6,1272.1 1112.6,1268.7 1114.4,1258.8 1117.6,1235.1 1118.4,1231.7 1119.0,1231.0 1119.6,1231.9 1120.4,1235.5 1123.6,1259.1 1125.4,1268.7 1126.4,1272.0 1127.6,1274.4 1129.0,1275.9 1130.6,1276.5 1132.4,1276.6 1133.8,1276.0 1135.0,1275.0 1136.2,1273.0 1138.0,1267.8 1141.4,1253.5 1142.2,1251.5 1142.8,1251.0 1143.4,1251.5 1144.2,1253.5 1147.6,1268.1 1148.6,1271.5 1149.8,1274.4 1151.0,1276.2 1152.4,1277.4 1154.0,1278.0 1156.6,1278.5 1162.6,1278.9 1172.4,1279.2 1204.6,1279.2 1207.0,1279.0 1208.8,1278.6 1210.6,1277.9 1213.6,1276.4 1215.2,1276.0 1216.8,1276.4 1219.8,1277.9 1221.6,1278.6 1223.6,1279.1 1226.0,1279.3 1248.6,1279.4 1293.4,1279.4 1297.4,1279.2 1300.0,1278.8 1302.0,1278.1 1305.6,1276.3 1307.0,1276.0 1308.6,1276.3 1313.6,1278.6 1315.4,1279.0 1317.8,1279.3 1373.4,1279.5" stroke="#FF00FF" stroke-width="12" stroke-linecap="round" stroke-dasharray="0 17"/>
<path d="M116.0,1586.3 238.4,1585.7 276.6,1585.1 303.4,1584.4 320.2,1583.5 326.4,1582.9 331.6,1582.2 335.8,1581.4 339.4,1580.3 342.4,1579.1 344.8,1577.6 347.0,1575.6 349.0,1573.0 350.6,1570.0 352.0,1566.2 353.2,1561.8 354.2,1556.7 355.2,1549.9 356.0,1542.6 357.2,1527.1 358.2,1508.1 359.2,1481.5 361.0,1421.3 361.6,1407.7 362.0,1404.1 362.2,1404.2 362.4,1405.7 363.0,1416.9 365.2,1488.4 366.6,1520.6 367.4,1533.0 368.4,1544.3 369.6,1553.7 370.8,1560.0 372.6,1566.3 374.6,1570.5 375.8,1572.3 377.2,1573.8 378.8,1575.0 380.4,1575.9 382.6,1576.8 385.2,1577.3 388.0,1577.5 391.0,1577.4 393.8,1577.0 396.4,1576.3 398.8,1575.3 400.8,1574.0 403.0,1572.1 405.0,1569.4 406.6,1566.2 408.0,1562.3 409.2,1557.5 410.2,1552.1 411.2,1544.6 412.0,1536.4 413.2,1518.6 414.4,1490.3 415.4,1455.1 417.0,1384.6 417.6,1367.9 417.8,1365.5 418.0,1365.1 418.4,1369.7 418.8,1380.9 420.6,1458.5 421.6,1492.2 422.8,1519.0 424.2,1537.8 425.2,1546.3 426.4,1553.3 427.6,1558.0 429.2,1562.0 430.2,1563.6 431.2,1564.8 432.2,1565.6 433.4,1566.2 434.6,1566.3 435.8,1566.2 437.0,1565.7 438.2,1564.8 440.4,1562.3 442.2,1559.0 444.0,1554.2 445.4,1548.8 446.6,1542.6 447.8,1534.4 448.8,1525.3 449.8,1513.5 451.2,1490.4 452.6,1456.1 453.8,1415.1 456.0,1325.0 456.6,1308.2 457.2,1301.1 457.4,1301.2 457.8,1305.2 458.4,1319.5 461.0,1424.3 462.6,1473.9 464.4,1509.4 465.4,1522.7 466.6,1534.6 468.0,1544.7 469.8,1553.8 471.8,1560.6 474.2,1566.1 475.6,1568.4 477.0,1570.3 478.6,1572.1 480.4,1573.7 482.4,1575.1 484.6,1576.4 490.0,1578.5 494.6,1579.7 500.2,1580.7 506.8,1581.6 514.8,1582.4 536.0,1583.6 565.0,1584.5 605.2,1585.0 637.6,1584.8 648.0,1584.5 656.4,1584.0 663.0,1583.3 668.4,1582.4 671.4,1581.6 674.0,1580.6 676.2,1579.6 678.2,1578.4 680.0,1576.9 681.4,1575.4 682.8,1573.4 684.0,1571.3 685.8,1566.6 687.2,1561.2 688.6,1553.5 691.0,1537.0 691.6,1534.2 692.2,1533.0 692.4,1533.0 692.8,1533.7 693.4,1536.2 696.0,1553.8 697.2,1560.5 698.6,1566.2 700.0,1570.1 702.2,1574.2 703.6,1576.0 705.0,1577.4 706.6,1578.6 708.6,1579.8 713.2,1581.7 716.8,1582.7 721.0,1583.4 731.6,1584.5 746.8,1585.2 768.6,1585.5 799.4,1585.5 823.2,1585.0 839.0,1584.1 845.0,1583.5 850.2,1582.7 854.6,1581.7 858.4,1580.4 861.6,1579.0 864.4,1577.2 866.8,1575.2 868.8,1572.9 870.6,1570.1 872.2,1566.8 873.4,1563.4 874.6,1559.0 876.4,1549.5 878.0,1536.7 880.6,1509.7 881.2,1505.7 881.8,1504.0 882.0,1504.1 882.4,1505.2 883.0,1508.8 885.8,1537.6 887.4,1550.1 889.2,1559.4 890.4,1563.7 891.6,1566.9 893.2,1570.2 895.0,1573.0 897.2,1575.4 899.8,1577.5 902.8,1579.3 906.2,1580.7 910.2,1581.8 914.8,1582.8 924.4,1583.9 937.0,1584.6 952.8,1584.8 967.6,1584.4 977.4,1583.7 985.0,1582.6 991.0,1581.1 993.6,1580.1 995.8,1579.0 999.0,1576.7 1001.6,1573.9 1003.8,1570.2 1005.6,1565.6 1006.8,1561.3 1008.0,1555.5 1011.6,1530.0 1012.2,1527.1 1012.8,1526.0 1013.0,1526.1 1013.4,1526.8 1014.2,1530.6 1016.8,1549.9 1018.4,1559.1 1020.0,1565.3 1022.0,1570.4 1023.4,1572.8 1025.0,1574.9 1026.8,1576.7 1029.0,1578.3 1031.4,1579.6 1034.2,1580.8 1037.4,1581.7 1041.2,1582.5 1048.8,1583.4 1057.6,1583.7 1066.4,1583.5 1073.4,1582.8 1077.2,1581.8 1080.0,1580.5 1082.2,1578.7 1085.4,1575.1 1086.6,1574.5 1087.8,1575.0 1090.2,1577.4 1091.6,1578.5 1093.2,1579.3 1094.8,1579.7 1097.2,1579.8 1100.0,1579.5 1102.6,1578.7 1105.0,1577.6 1107.4,1575.9 1109.6,1573.5 1111.4,1570.6 1112.8,1567.3 1114.0,1563.4 1115.2,1558.3 1118.4,1540.7 1119.0,1538.7 1119.6,1538.0 1120.2,1538.8 1120.8,1540.8 1123.6,1556.1 1125.2,1562.8 1126.2,1565.9 1127.2,1568.2 1128.4,1570.3 1129.6,1571.8 1131.2,1573.1 1133.0,1573.8 1134.8,1573.9 1136.4,1573.2 1137.6,1572.2 1138.6,1570.9 1139.8,1568.7 1142.2,1563.5 1142.8,1562.8 1143.4,1562.6 1144.0,1563.0 1144.8,1564.4 1147.2,1570.8 1148.6,1573.9 1150.0,1576.2 1151.4,1577.8 1153.6,1579.6 1156.2,1581.0 1159.6,1582.3 1163.6,1583.2 1170.2,1584.1 1178.4,1584.8 1189.0,1585.2 1199.2,1585.3 1204.6,1585.1 1208.4,1584.7 1211.0,1584.0 1214.6,1582.6 1215.8,1582.4 1217.0,1582.6 1220.4,1584.1 1222.6,1584.7 1225.6,1585.2 1229.8,1585.6 1247.6,1586.1 1276.8,1586.2 1290.0,1585.9 1297.6,1585.3 1301.6,1584.5 1306.4,1582.3 1307.8,1582.0 1309.0,1582.3 1312.4,1584.0 1314.6,1584.8 1317.8,1585.4 1322.0,1585.8 1338.4,1586.3 1373.4,1586.6" stroke="#000000" stroke-width="12"/>
<path d="M116.0,1586.8 269.6,1586.7 321.6,1586.4 334.0,1586.1 342.0,1585.5 347.4,1584.5 349.4,1583.8 351.0,1583.0 352.4,1581.9 353.4,1580.6 354.2,1579.1 354.8,1577.3 355.8,1572.1 356.8,1562.3 357.6,1549.3 358.4,1530.5 361.0,1447.1 361.6,1435.2 362.0,1432.1 362.2,1432.2 362.6,1435.7 363.2,1448.2 365.4,1520.3 366.8,1553.7 367.6,1565.2 368.4,1572.3 369.2,1576.6 370.4,1579.9 371.6,1581.6 373.0,1582.7 375.0,1583.7 377.4,1584.4 380.6,1584.9 384.4,1585.3 394.4,1585.3 401.4,1584.7 404.0,1584.2 406.2,1583.4 407.8,1582.6 409.2,1581.5 410.2,1580.1 411.0,1578.3 411.8,1575.1 412.6,1569.3 413.8,1552.2 414.8,1527.3 417.0,1453.4 417.6,1441.9 417.8,1440.4 418.0,1440.0 418.4,1443.2 419.0,1456.1 420.8,1517.8 421.8,1545.6 422.8,1563.3 423.4,1569.8 424.0,1574.0 424.8,1577.4 425.8,1579.6 427.4,1581.3 429.6,1582.3 433.0,1582.8 436.8,1582.4 440.2,1581.3 443.0,1579.6 444.6,1578.0 446.0,1575.9 447.2,1572.8 448.0,1569.4 448.8,1564.3 449.4,1558.8 450.6,1541.3 451.6,1517.6 452.6,1483.8 456.0,1327.5 456.6,1310.3 457.2,1303.1 457.4,1303.2 457.8,1307.1 458.6,1328.5 461.4,1460.0 462.6,1506.4 463.6,1533.7 464.8,1554.6 465.6,1563.1 466.4,1568.7 467.4,1573.1 468.4,1575.9 470.0,1578.5 472.0,1580.5 474.6,1582.1 477.8,1583.4 480.8,1584.2 484.2,1584.8 493.4,1585.6 507.0,1586.1 528.2,1586.5 591.4,1586.7 653.2,1586.6 671.0,1586.1 676.0,1585.7 679.6,1585.1 681.8,1584.3 683.4,1582.9 684.6,1580.8 685.8,1576.9 686.8,1571.7 687.8,1564.5 691.0,1534.8 691.6,1531.4 692.2,1530.0 692.4,1530.1 692.8,1530.9 693.6,1535.2 696.8,1564.9 697.6,1570.8 698.6,1576.2 699.6,1579.8 700.8,1582.4 702.2,1583.9 704.2,1584.9 709.2,1585.8 717.6,1586.3 731.6,1586.6 757.6,1586.7 842.8,1586.5 857.6,1586.1 862.4,1585.7 866.0,1585.2 869.8,1584.1 871.0,1583.3 872.0,1582.4 872.8,1581.2 873.6,1579.4 874.8,1575.0 876.0,1567.4 877.0,1558.1 880.6,1512.4 881.2,1507.8 881.8,1506.0 882.0,1506.1 882.4,1507.3 883.2,1513.3 886.8,1559.1 887.8,1568.1 889.0,1575.4 890.4,1580.2 891.2,1581.7 892.0,1582.7 893.0,1583.5 894.4,1584.3 898.6,1585.3 906.2,1586.0 919.0,1586.4 945.6,1586.6 974.8,1586.5 986.0,1586.3 993.4,1585.8 998.6,1585.1 1001.6,1584.1 1003.2,1582.8 1004.6,1580.5 1005.6,1577.5 1006.6,1572.9 1008.4,1559.6 1011.4,1529.3 1012.2,1524.3 1012.8,1523.0 1013.0,1523.1 1013.4,1524.0 1014.2,1528.6 1017.6,1562.3 1018.6,1570.0 1019.8,1576.4 1021.0,1580.3 1021.8,1581.9 1022.6,1583.0 1023.6,1583.8 1024.6,1584.4 1028.0,1585.3 1034.4,1586.0 1044.6,1586.4 1064.6,1586.5 1076.0,1586.2 1078.4,1585.8 1080.2,1585.1 1082.0,1583.7 1085.0,1580.7 1085.8,1580.2 1086.6,1580.0 1088.0,1580.6 1090.8,1583.4 1092.2,1584.5 1093.4,1585.2 1094.8,1585.6 1097.8,1585.9 1102.6,1585.7 1106.2,1585.2 1108.6,1584.5 1110.0,1583.5 1111.2,1582.0 1112.2,1579.9 1113.2,1576.6 1115.0,1567.3 1118.2,1544.9 1119.0,1541.7 1119.6,1541.0 1120.2,1541.9 1121.0,1545.2 1124.4,1568.9 1126.2,1577.5 1127.2,1580.3 1128.4,1582.4 1129.8,1583.7 1131.6,1584.3 1133.2,1584.4 1134.6,1584.1 1135.8,1583.4 1136.8,1582.3 1138.6,1578.9 1142.0,1569.6 1142.8,1568.3 1143.4,1568.0 1144.0,1568.3 1144.8,1569.6 1148.2,1579.2 1149.2,1581.5 1150.2,1583.1 1151.4,1584.4 1152.8,1585.2 1154.6,1585.7 1157.2,1586.1 1164.0,1586.4 1175.0,1586.6 1205.4,1586.5 1207.8,1586.3 1209.6,1585.8 1211.2,1585.1 1214.2,1583.4 1215.8,1583.0 1217.4,1583.4 1220.4,1585.1 1222.2,1585.9 1224.2,1586.3 1226.6,1586.6 1250.0,1586.7 1294.4,1586.6 1298.2,1586.5 1300.6,1586.0 1302.6,1585.3 1306.2,1583.3 1307.6,1583.0 1309.2,1583.3 1312.6,1585.2 1314.2,1585.9 1316.0,1586.3 1318.4,1586.6 1330.6,1586.7 1373.4,1586.8" stroke="#FF0000" stroke-width="12" stroke-linecap="round" stroke-dasharray="0 17"/>
</g>
<text transform="translate(116.0,1699) scale(1,1.035)" text-anchor="middle" font-size="70">20</text>
<text transform="translate(325.2,1699) scale(1,1.035)" text-anchor="middle" font-size="70">30</text>
<text transform="translate(534.5,1699) scale(1,1.035)" text-anchor="middle" font-size="70">40</text>
<text transform="translate(743.8,1699) scale(1,1.035)" text-anchor="middle" font-size="70">50</text>
<text transform="translate(953.0,1699) scale(1,1.035)" text-anchor="middle" font-size="70">60</text>
<text transform="translate(1162.2,1699) scale(1,1.035)" text-anchor="middle" font-size="70">70</text>
<text transform="translate(1371.5,1699) scale(1,1.035)" text-anchor="middle" font-size="70">80</text>
<text transform="translate(459.8,1765) scale(1,1.035)" font-size="70">2Theta (degree)</text>
<text transform="translate(84,1062.4) rotate(-90) scale(1,1.035)" font-size="70">Intensity (a.u.)</text>
<path d="M1059.0,156.7H1126.0" stroke="#008000" stroke-width="12" stroke-linecap="round"/>
<path d="M1114.8,470.9H1159.0" stroke="#800080" stroke-width="12" stroke-linecap="round"/>
<path d="M1090.0,771.0H1157.2" stroke="#808000" stroke-width="12" stroke-linecap="round"/>
<path d="M1084.6,1056.2H1139.9" stroke="#0000FF" stroke-width="12" stroke-linecap="round"/>
<path d="M1116.8,1344.4H1163.0" stroke="#000000" stroke-width="12" stroke-linecap="round"/>
<circle cx="1058.7" cy="231.8" r="6.2" fill="#FF8000"/>
<circle cx="1078.7" cy="231.8" r="6.2" fill="#FF8000"/>
<circle cx="1098.7" cy="231.8" r="6.2" fill="#FF8000"/>
<circle cx="1118.6" cy="231.8" r="6.2" fill="#FF8000"/>
<circle cx="1114.8" cy="546.5" r="6.2" fill="#00FFFF"/>
<circle cx="1134.8" cy="546.5" r="6.2" fill="#00FFFF"/>
<circle cx="1155.0" cy="546.5" r="6.2" fill="#00FFFF"/>
<circle cx="1090.0" cy="845.9" r="6.2" fill="#000080"/>
<circle cx="1110.0" cy="845.9" r="6.2" fill="#000080"/>
<circle cx="1129.8" cy="845.9" r="6.2" fill="#000080"/>
<circle cx="1149.8" cy="845.9" r="6.2" fill="#000080"/>
<circle cx="1084.7" cy="1131.5" r="6.2" fill="#FF00FF"/>
<circle cx="1104.5" cy="1131.5" r="6.2" fill="#FF00FF"/>
<circle cx="1124.6" cy="1131.5" r="6.2" fill="#FF00FF"/>
<circle cx="1116.8" cy="1419.5" r="6.2" fill="#FF0000"/>
<circle cx="1137.0" cy="1419.5" r="6.2" fill="#FF0000"/>
<circle cx="1157.2" cy="1419.5" r="6.2" fill="#FF0000"/>
<text transform="translate(1142.1,167.7) scale(1,1.035)" font-size="59">P10m</text>
<text transform="translate(1142.1,242.5) scale(1,1.035)" font-size="59">P10m.C</text>
<text transform="translate(1175.9,479.1) scale(1,1.035)" font-size="59">P5m</text>
<text transform="translate(1175.9,553.8) scale(1,1.035)" font-size="59">P5m.C</text>
<text transform="translate(1173.3,781.1) scale(1,1.035)" font-size="59">P1m</text>
<text transform="translate(1173.3,856.6) scale(1,1.035)" font-size="59">P1m.C</text>
<text transform="translate(1155.6,1064.6) scale(1,1.035)" font-size="59">P30s</text>
<text transform="translate(1155.6,1140.5) scale(1,1.035)" font-size="59">P30s.C</text>
<text transform="translate(1161.8,1351.9) scale(1,1.035)" font-size="59">B2h</text>
<text transform="translate(1178.3,1427.1) scale(1,1.035)" font-size="59">B2h.C</text>
<text transform="translate(338.6,1408.0) rotate(-90) scale(1,1.035)" font-size="50">100</text>
<text transform="translate(407.6,1383.0) rotate(-90) scale(1,1.035)" font-size="50">002</text>
<text transform="translate(515.6,1387.0) rotate(-90) scale(1,1.035)" font-size="50">101</text>
<text transform="translate(709.6,1512.0) rotate(-90) scale(1,1.035)" font-size="50">102</text>
<text transform="translate(897.1,1493.5) rotate(-90) scale(1,1.035)" font-size="50">110</text>
<text transform="translate(1032.6,1512.0) rotate(-90) scale(1,1.035)" font-size="50">103</text>
<text transform="translate(1088.6,1566.0) rotate(-90) scale(1,1.035)" font-size="50">200</text>
<text transform="translate(1134.6,1528.0) rotate(-90) scale(1,1.035)" font-size="50">112</text>
<text transform="translate(1184.6,1551.5) rotate(-90) scale(1,1.035)" font-size="50">201</text>
<text transform="translate(1245.6,1570.0) rotate(-90) scale(1,1.035)" font-size="50">004</text>
<text transform="translate(1325.0,1570.0) rotate(-90) scale(1,1.035)" font-size="50">202</text>
</svg>
</body></html>
